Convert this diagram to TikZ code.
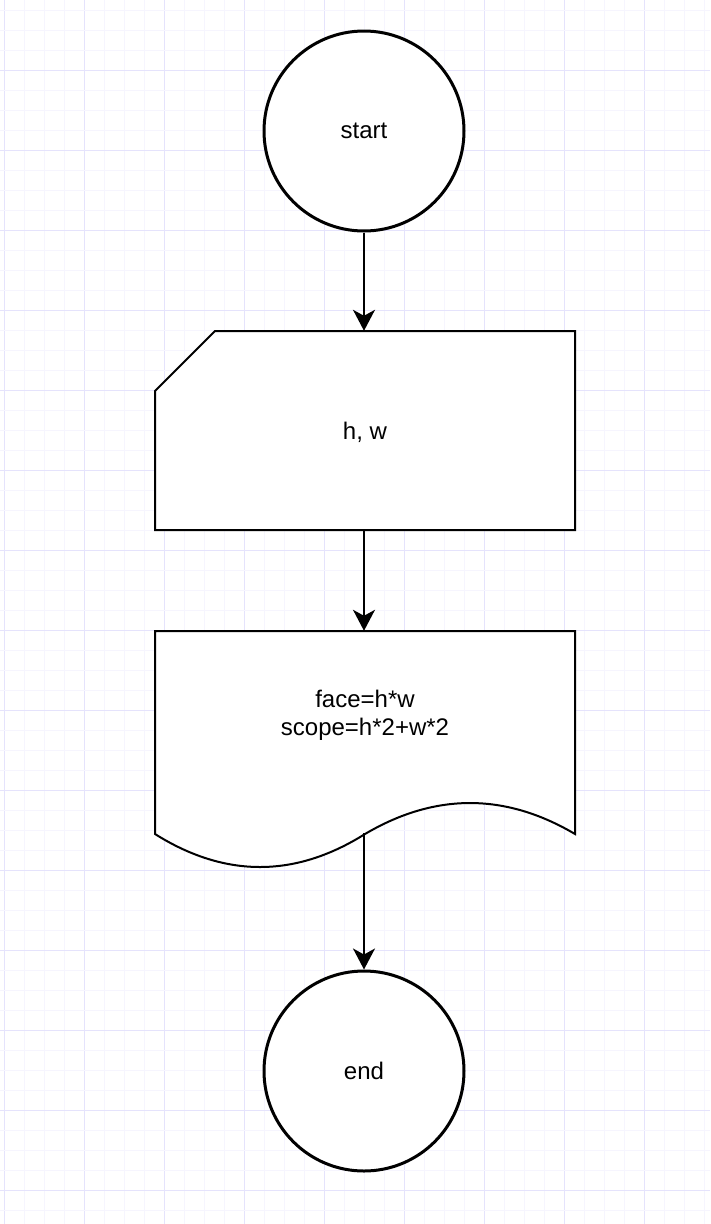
\documentclass[tikz,border=0pt]{standalone}
\usepackage{fontspec}
\setmainfont{Liberation Sans}
\usetikzlibrary{arrows.meta}
\definecolor{gridmajor}{RGB}{229,227,252}
\definecolor{gridminor}{RGB}{246,245,254}
\tikzset{
  shapeline/.style={draw=black, line width=2pt, fill=white},
  termbox/.style={draw=black, line width=3pt, fill=white, circle, minimum size=200pt, inner sep=0pt},
  txt/.style={font=\fontsize{24}{28}\selectfont, align=center, inner sep=0pt},
  conn/.style={draw=black, line width=2pt, -{Stealth[length=21pt,width=22pt,inset=6pt]}},
}
\begin{document}
\begin{tikzpicture}[x=1pt,y=-1pt]
\useasboundingbox (0,0) rectangle (710,1224);
\fill[white] (0,0) rectangle (710,1224);
% grid
\foreach \k in {0,...,35} {
  \pgfmathtruncatemacro{\m}{mod(\k,4)}
  \ifnum\m=0
    \draw[gridmajor, line width=1pt] (4+20*\k,0) -- (4+20*\k,1224);
  \else
    \draw[gridminor, line width=1pt] (4+20*\k,0) -- (4+20*\k,1224);
  \fi
}
\foreach \k in {0,...,60} {
  \pgfmathtruncatemacro{\m}{mod(\k,4)}
  \ifnum\m=3
    \draw[gridmajor, line width=1pt] (0,10+20*\k) -- (710,10+20*\k);
  \else
    \draw[gridminor, line width=1pt] (0,10+20*\k) -- (710,10+20*\k);
  \fi
}
% start
\node[termbox] (start) at (364,131) {};
\node[txt] (starttxt) at (364,131) {start};
% card (manual input)
\path[shapeline] (215,331) -- (575,331) -- (575,530) -- (155,530) -- (155,391) -- cycle;
\node[minimum width=420pt, minimum height=199pt, inner sep=0pt] (card) at (365,430.5) {};
\node[txt] (cardtxt) at (365,432) {h, w};
% document
\path[shapeline] (155,631) -- (575,631) -- (575,834)
  .. controls (505,792.7) and (435,792.7) .. (365,834)
  .. controls (295,878) and (225,878) .. (155,834) -- cycle;
\node[minimum width=420pt, minimum height=202pt, inner sep=0pt] (doc) at (365,732) {};
\node[txt] (doctxt) at (365,715) {face=h*w\\scope=h*2+w*2};
% end
\node[termbox] (end) at (364,1071) {};
\node[txt] (endtxt) at (364,1071) {end};
% connectors
\draw[conn] (start.south) -- (start.south |- card.north);
\draw[conn] (card.south -| start.south) -- (start.south |- doc.north);
\draw[conn] (doc.south -| start.south) -- (end.north);
\end{tikzpicture}
\end{document}
